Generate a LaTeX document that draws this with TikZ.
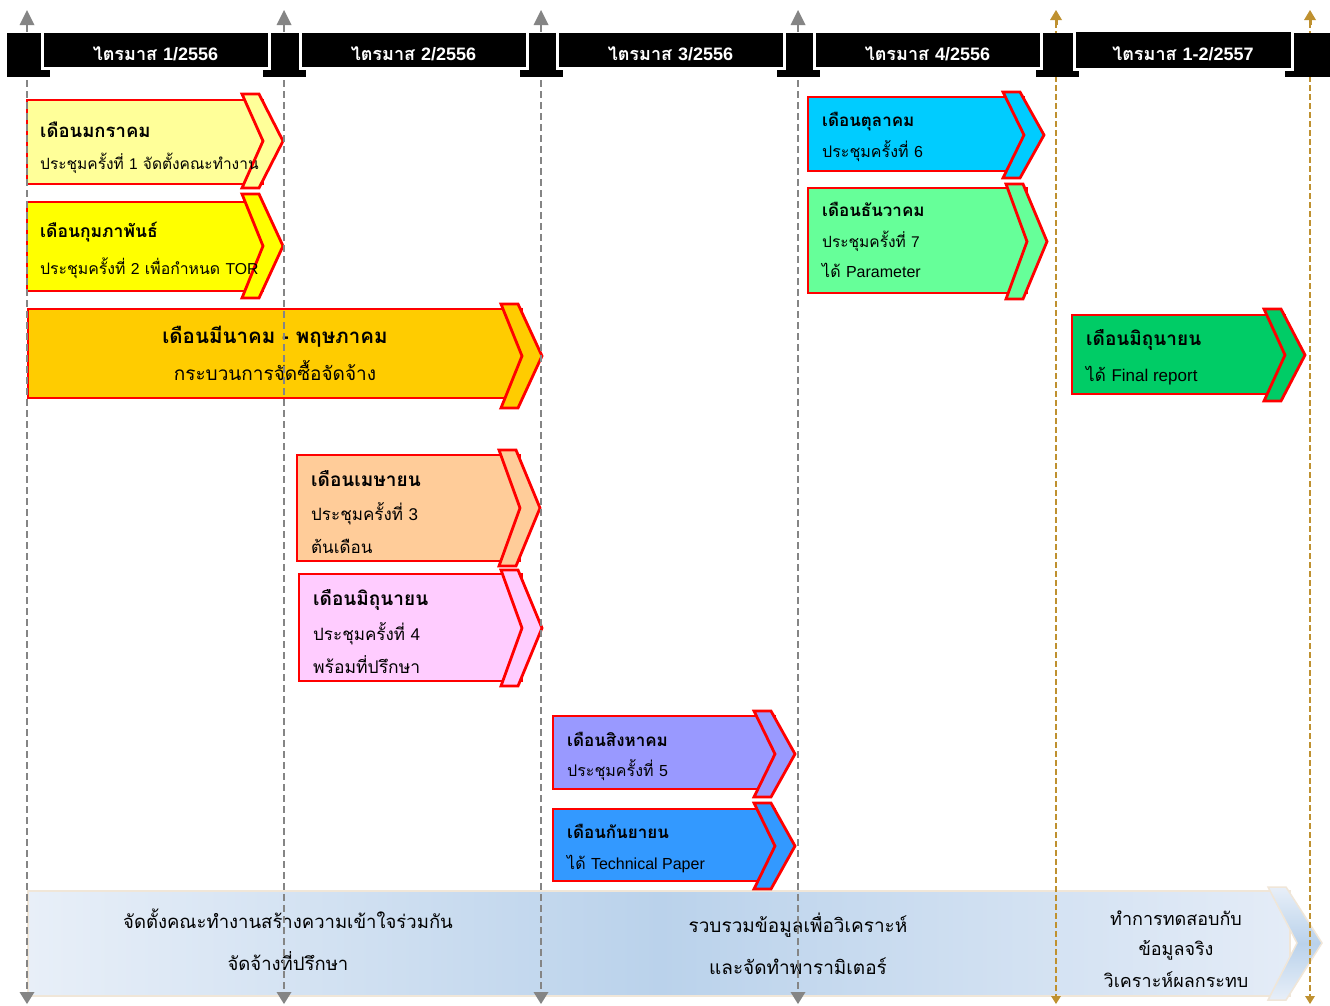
\documentclass[tikz,border=0pt]{standalone}
\usepackage{fontspec}
\setmainfont[Script=Thai]{Loma}
\newfontfamily\lat{Liberation Sans}
\newcommand\lt[1]{{\lat #1}}
\newcommand\fs[1]{\fontsize{#1}{#1}\selectfont}
\definecolor{gold}{HTML}{BF9130}
\definecolor{lineg}{HTML}{858585}
\definecolor{banL}{HTML}{E8EFF8}
\definecolor{banM}{HTML}{BAD2EB}
\definecolor{banR}{HTML}{E4ECF7}
\definecolor{banEdge}{HTML}{F0E6D8}
\definecolor{cJan}{HTML}{FFFF99}
\definecolor{cFeb}{HTML}{FFFF00}
\definecolor{cMar}{HTML}{FFCC00}
\definecolor{cApr}{HTML}{FFCC99}
\definecolor{cJun}{HTML}{FFCCFF}
\definecolor{cAug}{HTML}{9999FF}
\definecolor{cSep}{HTML}{3399FF}
\definecolor{cOct}{HTML}{00CCFF}
\definecolor{cDec}{HTML}{66FF99}
\definecolor{cFin}{HTML}{00CC66}
\tikzset{
 taskline/.style={draw=red, line width=2.8pt, line join=miter},
 ttl/.style={font=\fs{17}\bfseries, anchor=base west, inner sep=0pt},
 txt/.style={font=\fs{16}, anchor=base west, inner sep=0pt},
 cttl/.style={font=\fs{20.5}\bfseries, anchor=base, inner sep=0pt},
 ctxt/.style={font=\fs{19}, anchor=base, inner sep=0pt},
 hdr/.style={font=\fs{18}\bfseries, text=white, anchor=base, inner sep=0pt},
 btxt/.style={font=\fs{19}, anchor=base, inner sep=0pt},
 hbar/.style={fill=black, draw=white, line width=3pt},
 htab/.style={fill=black},
 gline/.style={draw=lineg, line width=1.8pt, dash pattern=on 7pt off 4pt},
 oline/.style={draw=gold, line width=2.8pt, dash pattern=on 6pt off 3pt},
}
% x1 y1 x2 y2 colour cy1 cy2
\newcommand\taskbox[7]{%
 \draw[taskline,fill=#5] (#1,#2) rectangle (#3,#4);
 \draw[taskline,fill=#5] ({#3-21},#6) -- ({#3-4},#6) -- ({#3+20},{(#6+#7)/2}) -- ({#3-4},#7) -- ({#3-21},#7) -- (#3,{(#6+#7)/2}) -- cycle;
}
\begin{document}
\begin{tikzpicture}[x=1pt,y=-1pt]
\useasboundingbox (0,0) rectangle (1330,1005);
\fill[white] (0,0) rectangle (1330,1005);
% bottom banner
\path[draw=banEdge, line width=1.5pt, left color=banL, right color=banR, middle color=banM] (28,891) rectangle (1290,996);
\path[draw=banEdge, line width=1.5pt, top color=banL, bottom color=banL, middle color=banM]
  (1268,887) -- (1286,887) -- (1322,943) -- (1286,1000) -- (1268,1000) -- (1297,943) -- cycle;
\node[btxt,font=\fs{18.5}] (b1a) at (288,928) {จัดตั้งคณะทำงานสร้างความเข้าใจร่วมกัน};
\node[btxt,font=\fs{18.5}] (b1b) at (288,970) {จัดจ้างที่ปรึกษา};
\node[btxt] (b2a) at (798,932) {รวบรวมข้อมูลเพื่อวิเคราะห์};
\node[btxt] (b2b) at (798,974) {และจัดทำพารามิเตอร์};
\node[btxt,font=\fs{18}] (b3a) at (1176,925) {ทำการทดสอบกับ};
\node[btxt,font=\fs{18}] (b3b) at (1176,955) {ข้อมูลจริง};
\node[btxt,font=\fs{18}] (b3c) at (1176,987) {วิเคราะห์ผลกระทบ};
% task boxes
\taskbox{27}{100}{263}{184}{cJan}{94}{188}
\node[ttl,font=\fs{18.5}\bfseries] (t1) at (40,137) {เดือนมกราคม};
\node[txt,font=\fs{15.5}] (s1) at (40,169) {ประชุมครั้งที่ \lt{1} จัดตั้งคณะทำงาน};
\taskbox{27}{202}{263}{291}{cFeb}{194}{298}
\node[ttl,font=\fs{17.5}\bfseries] (t2) at (40,237) {เดือนกุมภาพันธ์};
\node[txt,font=\fs{15.8}] (s2) at (40,274) {ประชุมครั้งที่ \lt{2} เพื่อกำหนด \lt{TOR}};
\taskbox{28}{309}{522}{398}{cMar}{304}{408}
\node[cttl] (t3) at (275,343) {เดือนมีนาคม \lt{-} พฤษภาคม};
\node[ctxt] (s3) at (275,380) {กระบวนการจัดซื้อจัดจ้าง};
\taskbox{297}{455}{520}{561}{cApr}{450}{566}
\node[ttl,font=\fs{19}\bfseries] (t4) at (311,486) {เดือนเมษายน};
\node[txt,font=\fs{17}] (s4) at (311,520) {ประชุมครั้งที่ \lt{3}};
\node[txt,font=\fs{17}] (u4) at (311,553) {ต้นเดือน};
\taskbox{299}{574}{522}{681}{cJun}{570}{686}
\node[ttl,font=\fs{19}\bfseries] (t5) at (313,605) {เดือนมิถุนายน};
\node[txt,font=\fs{17}] (s5) at (313,640) {ประชุมครั้งที่ \lt{4}};
\node[txt,font=\fs{17.5}] (u5) at (313,673) {พร้อมที่ปรึกษา};
\taskbox{553}{716}{775}{789}{cAug}{711}{797}
\node[ttl] (t6) at (567,746) {เดือนสิงหาคม};
\node[txt] (s6) at (567,776) {ประชุมครั้งที่ \lt{5}};
\taskbox{553}{809}{775}{881}{cSep}{803}{889}
\node[ttl] (t7) at (567,838) {เดือนกันยายน};
\node[txt] (s7) at (567,869) {ได้ \lt{Technical Paper}};
\taskbox{808}{97}{1024}{171}{cOct}{92}{178}
\node[ttl] (t8) at (822,126) {เดือนตุลาคม};
\node[txt] (s8) at (822,157) {ประชุมครั้งที่ \lt{6}};
\taskbox{808}{188}{1027}{293}{cDec}{184}{299}
\node[ttl] (t9) at (822,216) {เดือนธันวาคม};
\node[txt,font=\fs{15.5}] (s9) at (822,247) {ประชุมครั้งที่ \lt{7}};
\node[txt] (u9) at (822,277) {ได้ \lt{Parameter}};
\taskbox{1072}{315}{1285}{394}{cFin}{309}{401}
\node[ttl,font=\fs{19}\bfseries] (t10) at (1086,345) {เดือนมิถุนายน};
\node[txt,font=\fs{17}] (s10) at (1086,381) {ได้ \lt{Final report}};
% dashed guide lines
\foreach \x in {27,284,541,798}{
  \draw[gline] (\x,25) -- (\x,992);
  \fill[lineg] (\x-7.5,25) -- (\x+7.5,25) -- (\x,10) -- cycle;
  \fill[lineg] (\x-7.5,992) -- (\x+7.5,992) -- (\x,1004) -- cycle;
}
\foreach \x in {1056,1310}{
  \draw[oline] (\x,22) -- (\x,996);
  \fill[gold] (\x-6,20) -- (\x+6,20) -- (\x,10) -- cycle;
  \fill[gold] (\x-1.5,19) rectangle (\x+1.5,25);
  \fill[gold] (\x-5,996) -- (\x+5,996) -- (\x,1004) -- cycle;
}
% header tabs
\foreach \x in {28.5,284.5,541.5,798.5,1057.5}{
  \fill[htab] (\x-21.5,33) rectangle (\x+21.5,77);
}
\fill[htab] (1285,33) rectangle (1330,77);
% header bars
\draw[hbar] (42,31) rectangle (269,68);
\draw[hbar] (300,31) rectangle (527,68);
\draw[hbar] (557,31) rectangle (784,68);
\draw[hbar] (814,31) rectangle (1041,68);
\draw[hbar] (1074,30) rectangle (1292,69);
\node[hdr] (h1) at (155.5,60) {ไตรมาส \lt{1/2556}};
\node[hdr] (h2) at (413.5,60) {ไตรมาส \lt{2/2556}};
\node[hdr] (h3) at (670.5,60) {ไตรมาส \lt{3/2556}};
\node[hdr] (h4) at (927.5,60) {ไตรมาส \lt{4/2556}};
\node[hdr] (h5) at (1183,60) {ไตรมาส \lt{1-2/2557}};
\end{tikzpicture}
\end{document}
